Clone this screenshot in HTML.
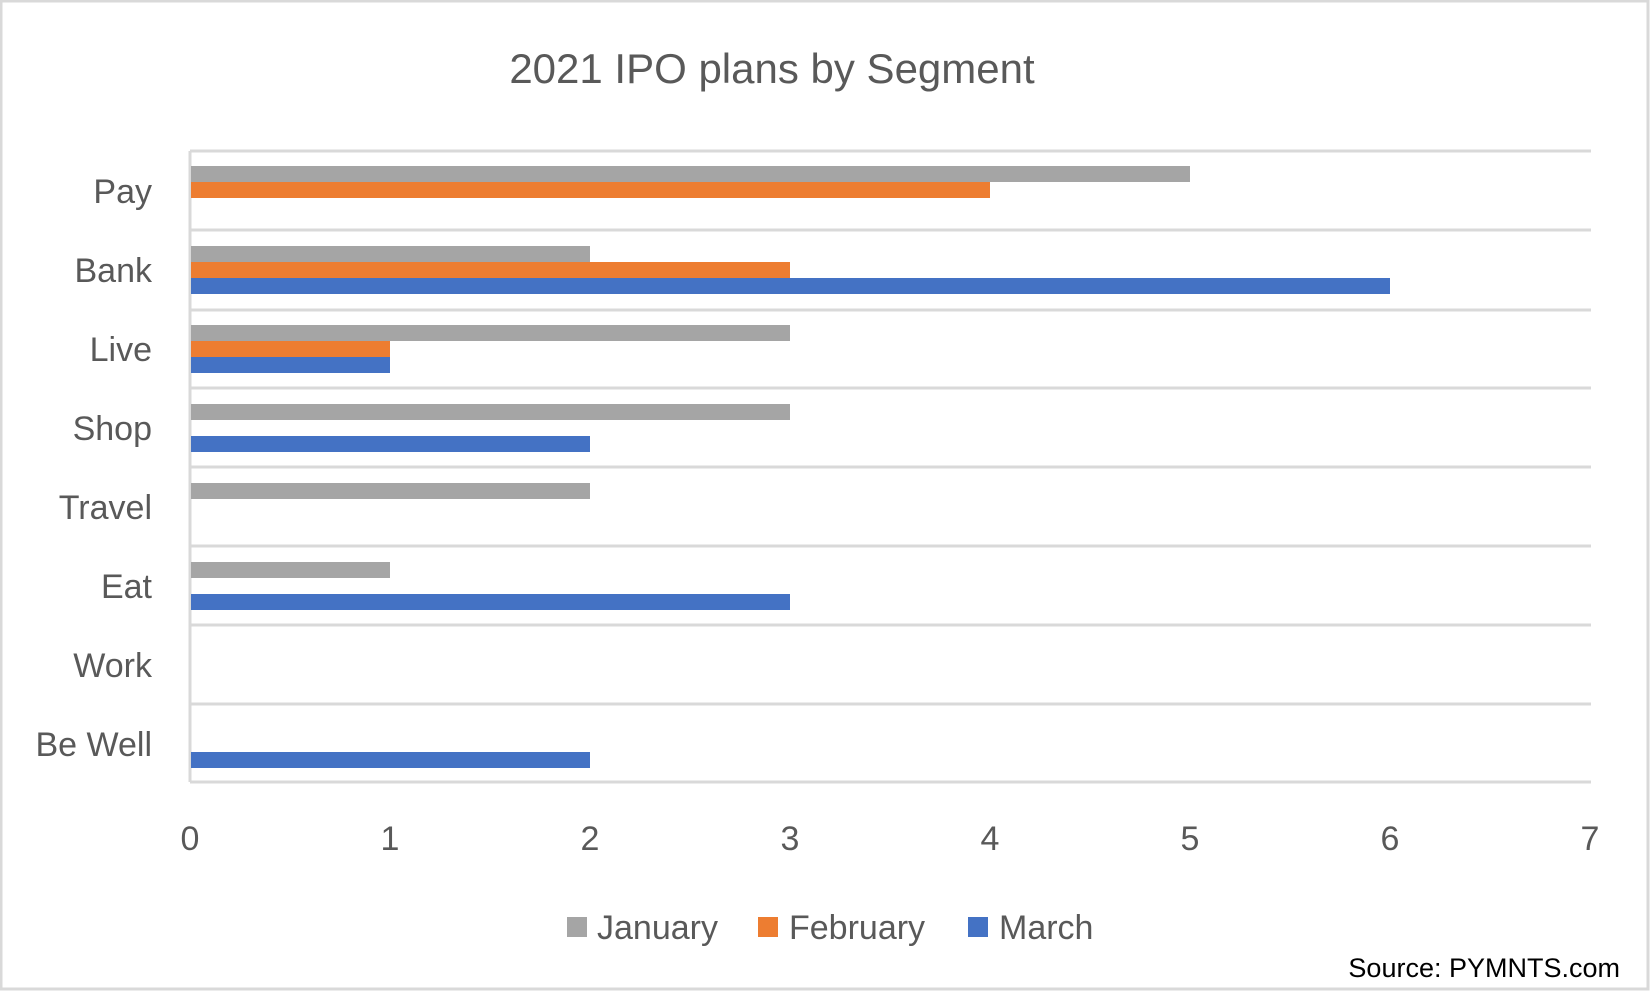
<!DOCTYPE html>
<html><head><meta charset="utf-8"><style>
body{margin:0;background:#fff}
svg text{font-family:"Liberation Sans",sans-serif}
</style></head><body>
<svg width="1652" height="992" viewBox="0 0 1652 992" xmlns="http://www.w3.org/2000/svg">
<rect x="1" y="1" width="1647" height="988" fill="#fff" stroke="#d9d9d9" stroke-width="3"/>
<text x="772" y="83" font-size="42" fill="#595959" text-anchor="middle">2021 IPO plans by Segment</text>
<g stroke="#d9d9d9" stroke-width="3">
<line x1="190" y1="151" x2="1591" y2="151"/>
<line x1="190" y1="230" x2="1591" y2="230"/>
<line x1="190" y1="310" x2="1591" y2="310"/>
<line x1="190" y1="388" x2="1591" y2="388"/>
<line x1="190" y1="467" x2="1591" y2="467"/>
<line x1="190" y1="546" x2="1591" y2="546"/>
<line x1="190" y1="625" x2="1591" y2="625"/>
<line x1="190" y1="704" x2="1591" y2="704"/>
<line x1="190" y1="782" x2="1591" y2="782"/>
<line x1="190" y1="151" x2="190" y2="782"/>
</g>
<g>
<rect x="191" y="166" width="999" height="16" fill="#a5a5a5"/>
<rect x="191" y="182" width="799" height="16" fill="#ed7d31"/>
<rect x="191" y="246" width="399" height="16" fill="#a5a5a5"/>
<rect x="191" y="262" width="599" height="16" fill="#ed7d31"/>
<rect x="191" y="278" width="1199" height="16" fill="#4472c4"/>
<rect x="191" y="325" width="599" height="16" fill="#a5a5a5"/>
<rect x="191" y="341" width="199" height="16" fill="#ed7d31"/>
<rect x="191" y="357" width="199" height="16" fill="#4472c4"/>
<rect x="191" y="404" width="599" height="16" fill="#a5a5a5"/>
<rect x="191" y="436" width="399" height="16" fill="#4472c4"/>
<rect x="191" y="483" width="399" height="16" fill="#a5a5a5"/>
<rect x="191" y="562" width="199" height="16" fill="#a5a5a5"/>
<rect x="191" y="594" width="599" height="16" fill="#4472c4"/>
<rect x="191" y="752" width="399" height="16" fill="#4472c4"/>
</g>
<g font-size="34" fill="#595959" text-anchor="end">
<text x="152" y="203">Pay</text>
<text x="152" y="282">Bank</text>
<text x="152" y="361">Live</text>
<text x="152" y="440">Shop</text>
<text x="152" y="519">Travel</text>
<text x="152" y="598">Eat</text>
<text x="152" y="677">Work</text>
<text x="152" y="756">Be Well</text>
</g>
<g font-size="34" fill="#595959" text-anchor="middle">
<text x="190" y="850">0</text>
<text x="390" y="850">1</text>
<text x="590" y="850">2</text>
<text x="790" y="850">3</text>
<text x="990" y="850">4</text>
<text x="1190" y="850">5</text>
<text x="1390" y="850">6</text>
<text x="1590" y="850">7</text>
</g>
<g font-size="34" fill="#595959">
<rect x="567" y="917" width="20" height="20" fill="#a5a5a5"/>
<text x="597" y="939">January</text>
<rect x="758" y="917" width="20" height="20" fill="#ed7d31"/>
<text x="789" y="939">February</text>
<rect x="968" y="917" width="20" height="20" fill="#4472c4"/>
<text x="999" y="939">March</text>
</g>
<text x="1620" y="977" font-size="27" fill="#000" text-anchor="end">Source: PYMNTS.com</text>
</svg>
</body></html>
